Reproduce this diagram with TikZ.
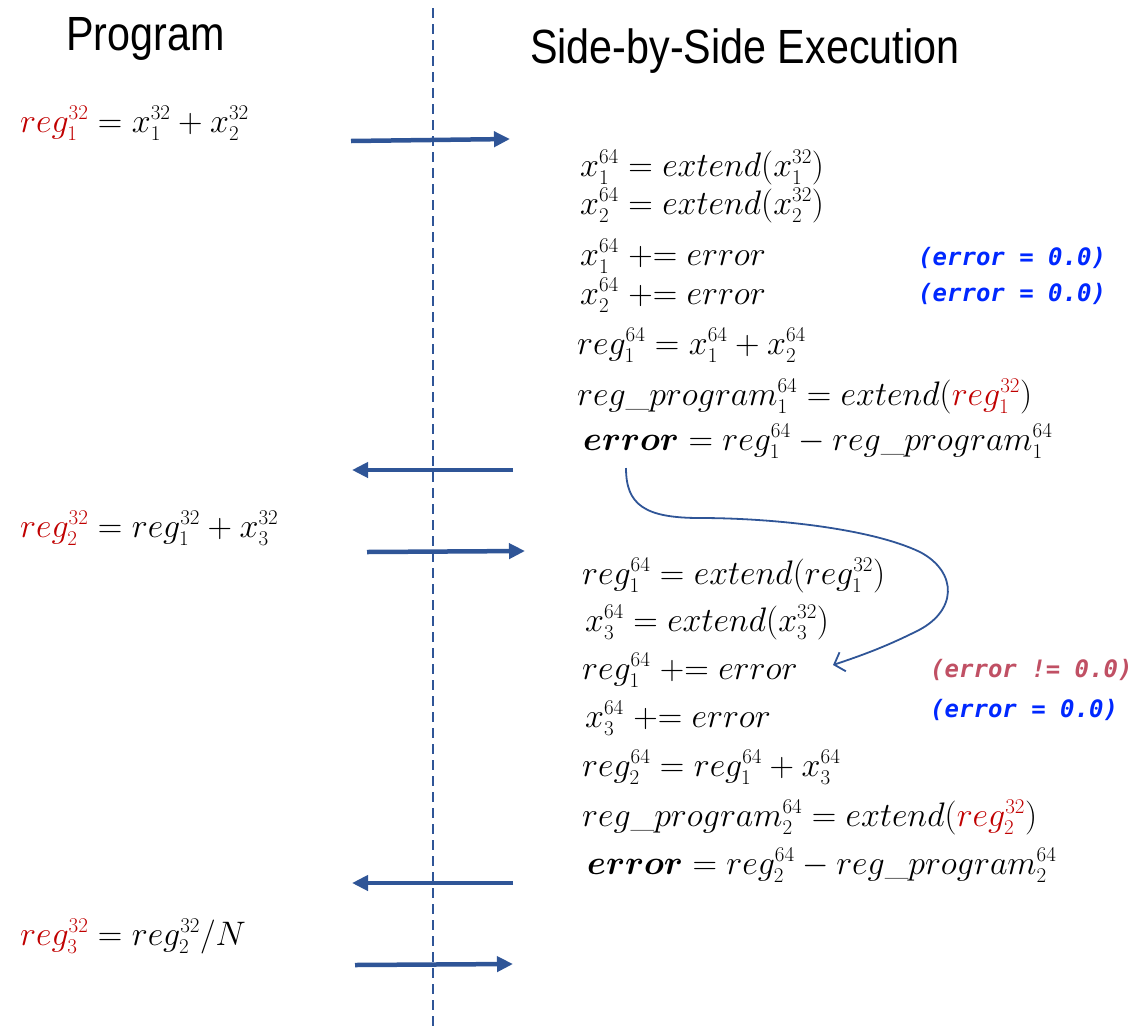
\RequirePackage{fix-cm}
\documentclass[tikz,border=0pt]{standalone}
\usepackage{amsmath}
\usepackage{fontspec}
\usetikzlibrary{arrows.meta}
\newfontfamily\titlefont[FakeStretch=0.86]{Liberation Sans}
\newfontfamily\notefont{DejaVu Sans Mono}
\DeclareMathSizes{34}{34}{21}{16}
\definecolor{arrowblue}{RGB}{47,85,151}
\definecolor{regred}{RGB}{192,0,0}
\definecolor{zeroblue}{RGB}{0,40,255}
\definecolor{nzred}{RGB}{192,80,100}
\newcommand{\rd}[1]{{\color{regred}#1}}
\newcommand{\pe}{\mathrel{+}\mathrel{=}}
\tikzset{
  title/.style={anchor=base west, inner sep=0pt, font=\titlefont\fontsize{48}{56}\selectfont},
  eq/.style={anchor=base west, inner sep=0pt, font=\fontsize{34}{38}\selectfont},
  note/.style={anchor=base west, inner sep=0pt, font=\notefont\bfseries\itshape\fontsize{24}{28}\selectfont},
  flow/.style={draw=arrowblue, line width=4.5pt, -{Triangle[length=16pt,width=15pt]}},
  divider/.style={draw=arrowblue, line width=1.8pt, dash pattern=on 10pt off 6pt},
  carry/.style={draw=arrowblue, line width=1.8pt, -{Straight Barb[length=9pt,width=20pt,line width=1.8pt]}}
}
\begin{document}
\begin{tikzpicture}[x=1pt,y=-1pt]
\useasboundingbox (0,0) rectangle (1140,1031);
% divider
\coordinate (dtop) at (433,8);
\coordinate (dbot) at (433,1031);
\draw[divider] (dtop) -- (dbot);
% titles
\node[title] (tprog) at (66,50) {Program};
\node[title] (texec) at (530,63) {Side-by-Side Execution};
% program lines
\node[eq] (p1) at (20,132) {$\rd{reg_1^{32}} = x_1^{32} + x_2^{32}$};
\node[eq] (p2) at (20,537) {$\rd{reg_2^{32}} = reg_1^{32} + x_3^{32}$};
\node[eq] (p3) at (20,945) {$\rd{reg_3^{32}} = reg_2^{32}/N$};
% block 1
\node[eq] (b1a) at (580,176) {$x_1^{64} = extend(x_1^{32})$};
\node[eq] (b1b) at (580,214) {$x_2^{64} = extend(x_2^{32})$};
\node[eq] (b1c) at (580,265) {$x_1^{64} \pe error$};
\node[eq] (b1d) at (580,304) {$x_2^{64} \pe error$};
\node[eq] (b1e) at (577,354) {$reg_1^{64} = x_1^{64} + x_2^{64}$};
\node[eq] (b1f) at (577,405) {$reg\_program_1^{64} = extend(\rd{reg_1^{32}})$};
\node[eq] (b1g) at (583,450) {$\boldsymbol{error} = reg_1^{64} - reg\_program_1^{64}$};
\node[note, text=zeroblue] (n1) at (918,265) {(error = 0.0)};
\node[note, text=zeroblue] (n2) at (918,301) {(error = 0.0)};
% block 2
\node[eq] (b2a) at (582,584) {$reg_1^{64} = extend(reg_1^{32})$};
\node[eq] (b2b) at (585,631) {$x_3^{64} = extend(x_3^{32})$};
\node[eq] (b2c) at (582,679) {$reg_1^{64} \pe error$};
\node[eq] (b2d) at (585,727) {$x_3^{64} \pe error$};
\node[eq] (b2e) at (582,776) {$reg_2^{64} = reg_1^{64} + x_3^{64}$};
\node[eq] (b2f) at (582,826) {$reg\_program_2^{64} = extend(\rd{reg_2^{32}})$};
\node[eq] (b2g) at (587,874) {$\boldsymbol{error} = reg_2^{64} - reg\_program_2^{64}$};
\node[note, text=nzred] (n3) at (930,677) {(error != 0.0)};
\node[note, text=zeroblue] (n4) at (930,717) {(error = 0.0)};
% flow arrows
\coordinate (f1s) at (351,141); \coordinate (f1e) at (510,139);
\coordinate (f2s) at (513,470); \coordinate (f2e) at (352,470);
\coordinate (f3s) at (367,552); \coordinate (f3e) at (525,551);
\coordinate (f4s) at (513,883); \coordinate (f4e) at (352,883);
\coordinate (f5s) at (355,965); \coordinate (f5e) at (513,964);
\draw[flow] (f1s) -- (f1e);
\draw[flow] (f2s) -- (f2e);
\draw[flow] (f3s) -- (f3e);
\draw[flow] (f4s) -- (f4e);
\draw[flow] (f5s) -- (f5e);
% carried error
\coordinate (cs) at (626,468);
\coordinate (ce) at (833,665);
\draw[carry] (cs) .. controls (626,505) and (645,518) .. (700,518)
  .. controls (770,518) and (870,528) .. (920,552)
  .. controls (958,572) and (958,612) .. (915,632)
  .. controls (885,647) and (860,656) .. (ce);
\end{tikzpicture}
\end{document}
